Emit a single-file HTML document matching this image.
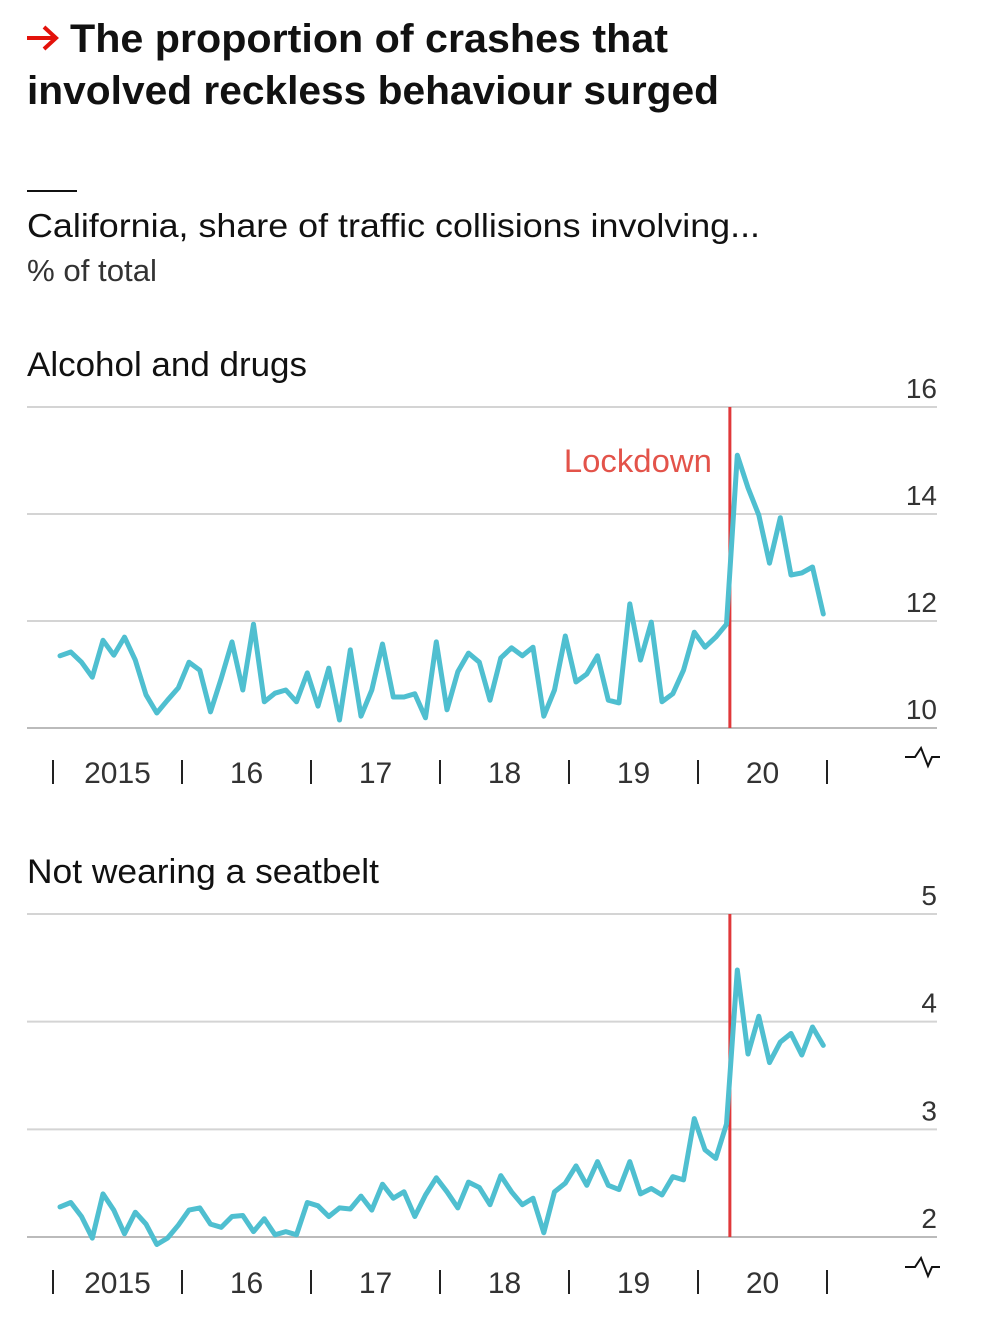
<!DOCTYPE html>
<html><head><meta charset="utf-8">
<style>
html,body{margin:0;padding:0;background:#fff;}
svg{display:block;font-family:"Liberation Sans Narrow","Liberation Sans",sans-serif;}
</style></head>
<body>
<svg id="chart" width="984" height="1320" viewBox="0 0 984 1320" xmlns="http://www.w3.org/2000/svg">
  <g>
    <path d="M27 38 H55 M44 27 L56 38 L44 49" stroke="#e3120b" stroke-width="4" fill="none"/>
    <text x="70" y="52" font-size="40" font-weight="bold" fill="#111" textLength="598" lengthAdjust="spacingAndGlyphs" font-family="Liberation Sans, sans-serif">The proportion of crashes that</text>
    <text x="27" y="104" font-size="40" font-weight="bold" fill="#111" textLength="692" lengthAdjust="spacingAndGlyphs" font-family="Liberation Sans, sans-serif">involved reckless behaviour surged</text>
    <line x1="27" y1="191" x2="77" y2="191" stroke="#111" stroke-width="2"/>
    <text x="27" y="237" font-size="33" fill="#111" textLength="733" lengthAdjust="spacingAndGlyphs">California, share of traffic collisions involving...</text>
    <text x="27" y="281" font-size="31" fill="#333" textLength="130" lengthAdjust="spacingAndGlyphs">% of total</text>
  </g>
  <g id="p1"></g>
  <g id="p2"></g>
</svg>
<script>
const months = 72;
const alcoholValues = [11.35,11.42,11.23,10.95,11.64,11.36,11.70,11.27,10.62,10.28,10.52,10.75,
11.23,11.08,10.30,10.93,11.61,10.71,11.94,10.49,10.65,10.71,10.49,11.03,
10.41,11.12,10.15,11.46,10.22,10.71,11.57,10.58,10.58,10.64,10.19,11.61,
10.34,11.05,11.40,11.23,10.52,11.31,11.50,11.35,11.51,10.22,10.71,11.72,
10.86,11.01,11.35,10.52,10.47,12.32,11.27,11.98,10.49,10.64,11.08,11.79,
11.51,11.70,11.94,15.10,14.49,13.98,13.08,13.93,12.86,12.90,13.01,12.13];
const seatbeltValues = [2.28,2.32,2.19,1.99,2.40,2.25,2.03,2.23,2.12,1.93,1.99,2.11,
2.25,2.27,2.12,2.09,2.19,2.20,2.05,2.17,2.02,2.05,2.02,2.32,
2.29,2.19,2.27,2.26,2.38,2.25,2.49,2.36,2.42,2.19,2.39,2.55,
2.42,2.27,2.51,2.46,2.30,2.57,2.42,2.30,2.36,2.04,2.42,2.50,
2.66,2.48,2.70,2.48,2.44,2.70,2.40,2.45,2.39,2.56,2.53,3.10,
2.81,2.73,3.05,4.48,3.70,4.05,3.62,3.81,3.89,3.69,3.95,3.78];
const yearLabels = ["2015","16","17","18","19","20"];
const alcoholTicks = [10,12,14,16];
const seatbeltTicks = [2,3,4,5];
const lockdownMonth = 63;

const NS = "http://www.w3.org/2000/svg";
const x0 = 53, yearW = 129;
function xScale(i){ return x0 + 7 + i * (yearW / 12); }
function mk(tag, attrs, parent){ const e = document.createElementNS(NS, tag); for (const k in attrs) e.setAttribute(k, attrs[k]); parent.appendChild(e); return e; }

function panel(g, title, titleW, vals, ticks, top, bottom, axisY, nameBase){
  const lo = ticks[0], hi = ticks[ticks.length-1];
  const y = v => bottom - (v - lo) / (hi - lo) * (bottom - top);
  const t = mk('text', {x:27, y: top - 31, 'font-size':34, fill:'#111', textLength:titleW, lengthAdjust:'spacingAndGlyphs'}, g);
  t.textContent = title;
  
  
  ticks.forEach((tv) => {
    const l = mk('line', {x1:27, x2:937, y1:y(tv), y2:y(tv), stroke: tv===lo ? '#bbb' : '#d4d4d4', 'stroke-width':2}, g);
    
    
    const lab = mk('text', {x:937, y:y(tv) - 9, 'font-size':28, fill:'#333', 'text-anchor':'end'}, g);
    lab.textContent = tv;
    
    
  });
  for (let k = 0; k <= yearLabels.length; k++){
    const xx = x0 + k * yearW;
    const tk = mk('line', {x1:xx, x2:xx, y1:axisY - 12, y2:axisY + 12, stroke:'#222', 'stroke-width':2}, g);
    
    
    if (k < yearLabels.length){
      const lab = mk('text', {x: xx + yearW/2, y: axisY + 11, 'font-size':30, fill:'#333', 'text-anchor':'middle'}, g);
      lab.textContent = yearLabels[k];
      
      
    }
  }
  const by = axisY - 15;
  const br = mk('path', {d:`M905 ${by} H915 L921 ${by-9} L928 ${by+9} L932 ${by} H940`, stroke:'#111', 'stroke-width':2, fill:'none'}, g);
  
  
  const lx = (xScale(lockdownMonth - 1) + xScale(lockdownMonth)) / 2 - 2;
  const ll = mk('line', {x1:lx, x2:lx, y1:top, y2:bottom, stroke:'#e0383a', 'stroke-width':3}, g);
  
  
  const pts = vals.map((v, i) => xScale(i).toFixed(1) + ',' + y(v).toFixed(1)).join(' ');
  const pl = mk('polyline', {points: pts, fill:'none', stroke:'#4fbfd0', 'stroke-width':5, 'stroke-linejoin':'round', 'stroke-linecap':'round'}, g);
  
  
  return lx;
}
const g1 = document.getElementById('p1');
const lx = panel(g1, 'Alcohol and drugs', 280, alcoholValues, alcoholTicks, 407, 728, 772, 'alcohol-drugs');
const lt = mk('text', {x: lx - 18, y: 472, 'font-size':32, fill:'#e3534a', 'text-anchor':'end', textLength:148, lengthAdjust:'spacingAndGlyphs'}, g1);
lt.textContent = 'Lockdown';


panel(document.getElementById('p2'), 'Not wearing a seatbelt', 352, seatbeltValues, seatbeltTicks, 914, 1237, 1282, 'seatbelt');
</script>
</body></html>
